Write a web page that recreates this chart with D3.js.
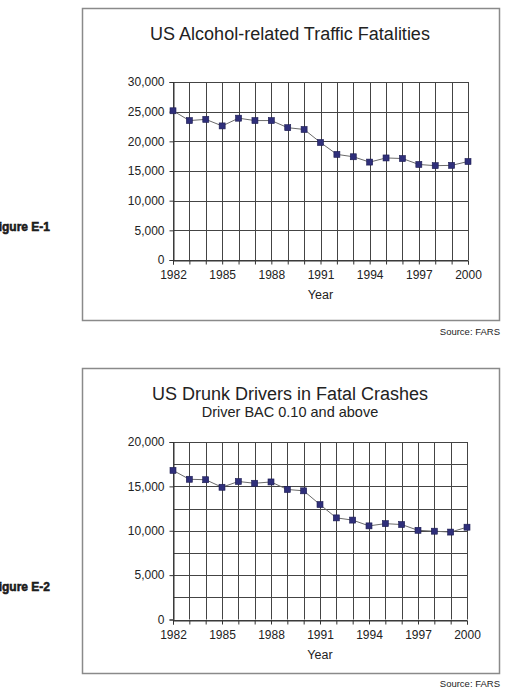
<!DOCTYPE html>
<html>
<head>
<meta charset="utf-8">
<script src="https://cdn.jsdelivr.net/npm/d3@7"></script>
<style>
	body { margin: 0; background: #fff; }
	text { font-family: "Liberation Sans", Arial, sans-serif; fill: #222; }
</style>
</head>
<body>
<div id="chart"></div>
<script>
// ********** DATA **********
const years = [1982, 1983, 1984, 1985, 1986, 1987, 1988, 1989, 1990, 1991,
	1992, 1993, 1994, 1995, 1996, 1997, 1998, 1999, 2000];

// alcohol-related traffic fatalities
const fatalities = [25150, 23500, 23700, 22600, 23900, 23500, 23500, 22300, 22000, 19800,
	17800, 17400, 16500, 17200, 17100, 16100, 15900, 15950, 16600];

// drunk drivers (BAC 0.10+) in fatal crashes
const drunkDrivers = [16800, 15800, 15750, 14900, 15550, 15350, 15500, 14650, 14500, 12950,
	11450, 11200, 10550, 10800, 10700, 10050, 9950, 9850, 10400];

const yearTickLabels = [1982, 1985, 1988, 1991, 1994, 1997, 2000];
const fatalityTickLabels = [0, 5000, 10000, 15000, 20000, 25000, 30000];
const drunkTickLabels = [0, 5000, 10000, 15000, 20000];

let svg;

//Create SVG element
const createSVG = (width, height, DOMTarget) => {
	if (!svg) {
		svg = d3.select(DOMTarget)
				.append("svg")
				.attr("width", width)
				.attr("height", height);
		svg.append("rect")
			.attr("width", width)
			.attr("height", height)
			.attr("fill", "#fff");
	}
}

const renderChart = (opts) => {
	const g = svg.append("g");

	// outer frame
	g.append("rect")
		.attr("x", opts.box[0] + 0.5)
		.attr("y", opts.box[1] + 0.5)
		.attr("width", opts.box[2])
		.attr("height", opts.box[3])
		.attr("fill", "none")
		.attr("stroke", "#8a8a8a")
		.attr("stroke-width", 1.5);

	const x = d3.scaleLinear().domain([1982, 2000]).range([opts.left, opts.right]);
	const y = d3.scaleLinear().domain([0, opts.max]).range([opts.bottom, opts.top]);

	// vertical grid, one per year
	g.append("g")
		.selectAll("line")
		.data(years)
		.join("line")
		.attr("x1", d => Math.round(x(d)) + 0.5)
		.attr("x2", d => Math.round(x(d)) + 0.5)
		.attr("y1", opts.top)
		.attr("y2", opts.bottom)
		.attr("stroke", "#444");

	// horizontal grid
	g.append("g")
		.selectAll("line")
		.data(d3.range(0, opts.max + 1, opts.gridStep))
		.join("line")
		.attr("x1", opts.left)
		.attr("x2", opts.right)
		.attr("y1", d => Math.round(y(d)) + 0.5)
		.attr("y2", d => Math.round(y(d)) + 0.5)
		.attr("stroke", "#444");

	// y axis
	const yAxis = g.append("g")
		.attr("transform", `translate(${Math.round(opts.left) + 0.5},0)`)
		.call(d3.axisLeft(y).tickValues(opts.yTicks).tickSize(4).tickPadding(5)
			.tickFormat(d3.format(",")));
	yAxis.select(".domain").attr("stroke", "#333");
	yAxis.selectAll(".tick line").attr("stroke", "#333");
	yAxis.selectAll("text")
		.attr("font-family", "Liberation Sans, Arial, sans-serif")
		.attr("font-size", 12)
		.attr("fill", "#333");

	// x axis: ticks on each year, labels every 3
	const xAxis = g.append("g")
		.attr("transform", `translate(0,${Math.round(opts.bottom) + 0.5})`)
		.call(d3.axisBottom(x).tickValues(years).tickSize(4).tickPadding(6)
			.tickFormat(d => yearTickLabels.includes(d) ? d : ""));
	xAxis.select(".domain").attr("stroke", "#333");
	xAxis.selectAll(".tick line").attr("stroke", "#333");
	xAxis.selectAll("text")
		.attr("font-family", "Liberation Sans, Arial, sans-serif")
		.attr("font-size", 12)
		.attr("fill", "#333");

	g.append("text")
		.attr("x", (opts.left + opts.right) / 2)
		.attr("y", opts.bottom + 39)
		.attr("text-anchor", "middle")
		.attr("font-size", 12.5)
		.attr("fill", "#333")
		.text("Year");

	// series line + square markers
	const line = d3.line().x((d, i) => x(years[i])).y(d => y(d));
	g.append("path")
		.datum(opts.values)
		.attr("d", line)
		.attr("fill", "none")
		.attr("stroke", "#6a6a6a")
		.attr("stroke-width", 1);

	g.append("g")
		.selectAll("rect")
		.data(opts.values)
		.join("rect")
		.attr("x", (d, i) => x(years[i]) - 3)
		.attr("y", d => y(d) - 3)
		.attr("width", 6)
		.attr("height", 6)
		.attr("fill", "#2f2f7a")
		.attr("stroke", "#1c1c50")
		.attr("stroke-width", 0.6);

	// titles
	g.append("text")
		.attr("x", opts.titleX)
		.attr("y", opts.titleY)
		.attr("text-anchor", "middle")
		.attr("font-size", 18)
		.attr("fill", "#222")
		.text(opts.title);

	if (opts.subtitle) {
		g.append("text")
			.attr("x", opts.titleX)
			.attr("y", opts.subtitleY)
			.attr("text-anchor", "middle")
			.attr("font-size", 14.5)
			.attr("fill", "#222")
			.text(opts.subtitle);
	}

	// source note
	g.append("text")
		.attr("x", opts.box[0] + opts.box[2] + 1)
		.attr("y", opts.sourceY)
		.attr("text-anchor", "end")
		.attr("font-size", 9.5)
		.attr("fill", "#333")
		.text("Source: FARS");

	// figure label, heavy condensed face, runs off the left edge as in the original
	g.append("text")
		.attr("x", 50)
		.attr("y", opts.figureY)
		.attr("text-anchor", "end")
		.attr("font-family", "DejaVu Sans Condensed, DejaVu Sans, sans-serif")
		.attr("font-weight", "bold")
		.attr("font-size", 12)
		.attr("fill", "#111")
		.attr("stroke", "#111")
		.attr("stroke-width", 0.5)
		.text(opts.figure);
}

export_render();

function export_render() {
	createSVG(516, 699, "#chart");

	renderChart({
		box: [82, 8, 417, 312],
		left: 173, right: 468, top: 82, bottom: 260,
		max: 30000, gridStep: 5000,
		yTicks: fatalityTickLabels,
		values: fatalities,
		title: "US Alcohol-related Traffic Fatalities",
		titleX: 290, titleY: 39.5,
		sourceY: 335,
		figure: "Figure E-1", figureY: 230.5
	});

	renderChart({
		box: [82, 368, 417, 305],
		left: 173, right: 467, top: 442, bottom: 619.5,
		max: 20000, gridStep: 2500,
		yTicks: drunkTickLabels,
		values: drunkDrivers,
		title: "US Drunk Drivers in Fatal Crashes",
		subtitle: "Driver BAC 0.10 and above",
		titleX: 290, titleY: 399.5, subtitleY: 417,
		sourceY: 687,
		figure: "Figure E-2", figureY: 590.5
	});
}
</script>
</body>
</html>
